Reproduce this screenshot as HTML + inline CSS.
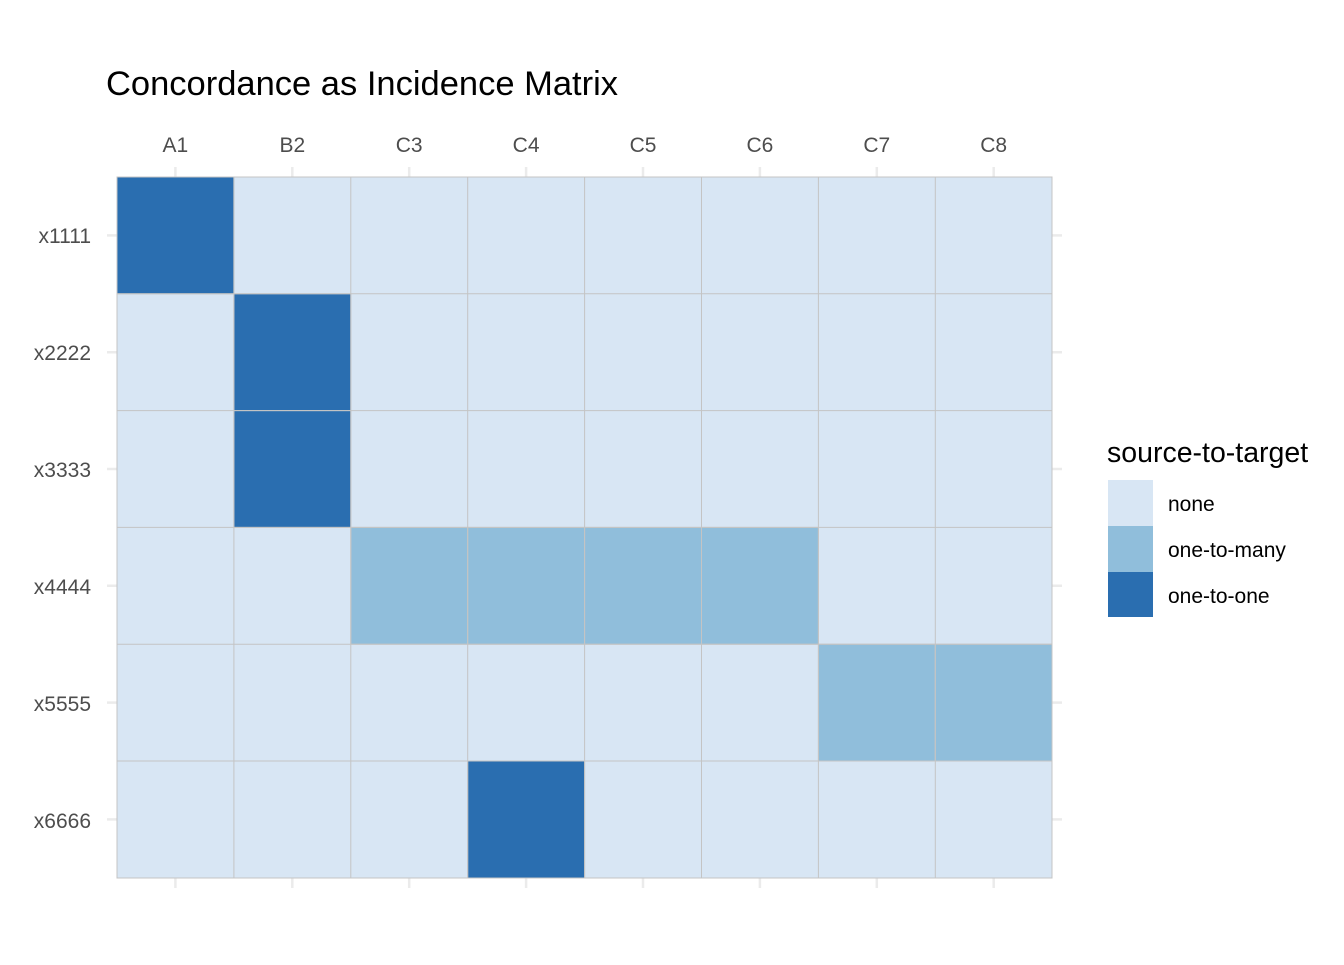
<!DOCTYPE html>
<html><head><style>body{margin:0;background:#fff}</style></head><body>
<svg width="1344" height="960" xmlns="http://www.w3.org/2000/svg" font-family="Liberation Sans, Arial, sans-serif">
<rect width="1344" height="960" fill="#fff"/>
<text x="106" y="95" font-size="34.5" fill="#000">Concordance as Incidence Matrix</text>
<g stroke="#ebebeb" stroke-width="2.5">
<line x1="175.4" y1="167" x2="175.4" y2="888"/><line x1="292.3" y1="167" x2="292.3" y2="888"/>
<line x1="409.2" y1="167" x2="409.2" y2="888"/><line x1="526.1" y1="167" x2="526.1" y2="888"/>
<line x1="643" y1="167" x2="643" y2="888"/><line x1="759.9" y1="167" x2="759.9" y2="888"/>
<line x1="876.8" y1="167" x2="876.8" y2="888"/><line x1="993.7" y1="167" x2="993.7" y2="888"/>
<line x1="107" y1="235.4" x2="1062" y2="235.4"/><line x1="107" y1="352.2" x2="1062" y2="352.2"/>
<line x1="107" y1="469" x2="1062" y2="469"/><line x1="107" y1="585.8" x2="1062" y2="585.8"/>
<line x1="107" y1="702.6" x2="1062" y2="702.6"/><line x1="107" y1="819.4" x2="1062" y2="819.4"/>
</g>
<g stroke="#c4c4c4" stroke-width="1" fill="#d8e6f4">
<rect x="117" y="177" width="935" height="701"/>
</g>
<g stroke="#c4c4c4" stroke-width="1">
<rect x="117" y="177" width="116.9" height="116.8" fill="#2a6eb0"/>
<rect x="233.9" y="293.8" width="116.9" height="116.8" fill="#2a6eb0"/>
<rect x="233.9" y="410.6" width="116.9" height="116.8" fill="#2a6eb0"/>
<rect x="350.8" y="527.4" width="116.9" height="116.8" fill="#90bedb"/>
<rect x="467.7" y="527.4" width="116.9" height="116.8" fill="#90bedb"/>
<rect x="584.6" y="527.4" width="116.9" height="116.8" fill="#90bedb"/>
<rect x="701.5" y="527.4" width="116.9" height="116.8" fill="#90bedb"/>
<rect x="818.4" y="644.2" width="116.9" height="116.8" fill="#90bedb"/>
<rect x="935.3" y="644.2" width="116.7" height="116.8" fill="#90bedb"/>
<rect x="467.7" y="761" width="116.9" height="117" fill="#2a6eb0"/>
</g>
<g stroke="#c4c4c4" stroke-width="1">
<line x1="233.9" y1="177" x2="233.9" y2="878"/><line x1="350.8" y1="177" x2="350.8" y2="878"/>
<line x1="467.7" y1="177" x2="467.7" y2="878"/><line x1="584.6" y1="177" x2="584.6" y2="878"/>
<line x1="701.5" y1="177" x2="701.5" y2="878"/><line x1="818.4" y1="177" x2="818.4" y2="878"/>
<line x1="935.3" y1="177" x2="935.3" y2="878"/>
<line x1="117" y1="293.8" x2="1052" y2="293.8"/><line x1="117" y1="410.6" x2="1052" y2="410.6"/>
<line x1="117" y1="527.4" x2="1052" y2="527.4"/><line x1="117" y1="644.2" x2="1052" y2="644.2"/>
<line x1="117" y1="761" x2="1052" y2="761"/>
</g>
<g font-size="21" fill="#4d4d4d" text-anchor="middle">
<text x="175.4" y="152">A1</text><text x="292.3" y="152">B2</text><text x="409.2" y="152">C3</text><text x="526.1" y="152">C4</text>
<text x="643" y="152">C5</text><text x="759.9" y="152">C6</text><text x="876.8" y="152">C7</text><text x="993.7" y="152">C8</text>
</g>
<g font-size="21" fill="#4d4d4d" text-anchor="end">
<text x="91" y="243">x1111</text><text x="91" y="360">x2222</text><text x="91" y="477">x3333</text>
<text x="91" y="594">x4444</text><text x="91" y="711">x5555</text><text x="91" y="828">x6666</text>
</g>
<text x="1107" y="462" font-size="28.5" fill="#000">source-to-target</text>
<rect x="1108" y="480" width="45" height="46" fill="#d8e6f4"/>
<rect x="1108" y="526" width="45" height="46" fill="#90bedb"/>
<rect x="1108" y="572" width="45" height="45" fill="#2a6eb0"/>
<g font-size="21" fill="#000"><text x="1168" y="511">none</text><text x="1168" y="557">one-to-many</text><text x="1168" y="603">one-to-one</text></g>
</svg>
</body></html>
